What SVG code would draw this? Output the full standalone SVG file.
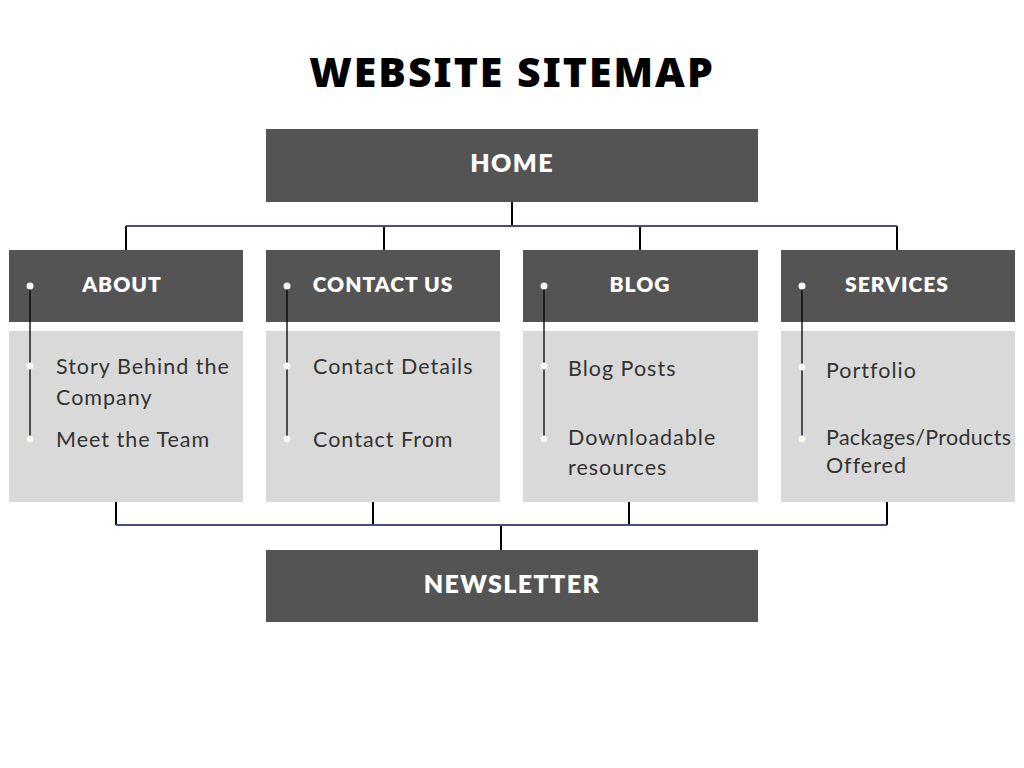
<svg xmlns="http://www.w3.org/2000/svg" width="1024" height="768" viewBox="0 0 1024 768">
<style>
.dark{fill:#545454}
.light{fill:#d9d9d9}
.title{font-family:"Noto Sans",sans-serif;font-weight:900;font-size:41px;fill:#000;text-anchor:middle;letter-spacing:2px}
.hd{font-family:"Lato","Noto Sans",sans-serif;font-weight:800;font-size:21px;fill:#ffffff;text-anchor:middle;letter-spacing:1px}
.big{font-size:25px;letter-spacing:1.4px}
.it{font-family:"Lato","Noto Sans",sans-serif;font-size:21.5px;fill:#333333;letter-spacing:1px}
.conn{stroke:#000;stroke-width:2;fill:none}
.bar{stroke:#4a4e78;stroke-width:2;fill:none}
.bl{stroke:#000;stroke-width:1.3}
.dot{fill:#f7f7f0}
</style>
<text class="title" x="512" y="87">WEBSITE SITEMAP</text>
<g id="connectors">
<path class="conn" d="M512 202V226M126 226V250M384 226V250M640 226V250M897 226V250"/>
<path class="bar" d="M126 226H897"/>
<path class="conn" d="M116 502V525M373 502V525M629 502V525M887 502V525M501 525V550"/>
<path class="bar" d="M116 525H887"/>
</g>
<g id="home"><rect class="dark" x="266" y="129" width="492" height="73"/><text class="hd big" x="512" y="172">HOME</text></g>
<g id="about">
<rect class="dark" x="9" y="250" width="234" height="72"/>
<rect class="light" x="9" y="331" width="234" height="171"/>
<text class="hd" x="122" y="292">ABOUT</text>
<line class="bl" x1="30" y1="286" x2="30" y2="439"/>
<circle class="dot" cx="30" cy="286" r="3.5"/><circle class="dot" cx="30" cy="366" r="3.5"/><circle class="dot" cx="30" cy="439" r="3.5"/>
<text class="it" x="56" y="374">Story Behind the</text>
<text class="it" x="56" y="405">Company</text>
<text class="it" x="56" y="447">Meet the Team</text>
</g>
<g id="contact">
<rect class="dark" x="266" y="250" width="234" height="72"/>
<rect class="light" x="266" y="331" width="234" height="171"/>
<text class="hd" x="383" y="292">CONTACT US</text>
<line class="bl" x1="287" y1="286" x2="287" y2="439"/>
<circle class="dot" cx="287" cy="286" r="3.5"/><circle class="dot" cx="287" cy="366" r="3.5"/><circle class="dot" cx="287" cy="439" r="3.5"/>
<text class="it" x="313" y="374">Contact Details</text>
<text class="it" x="313" y="447">Contact From</text>
</g>
<g id="blog">
<rect class="dark" x="523" y="250" width="235" height="72"/>
<rect class="light" x="523" y="331" width="235" height="171"/>
<text class="hd" x="640" y="292">BLOG</text>
<line class="bl" x1="544" y1="286" x2="544" y2="439"/>
<circle class="dot" cx="544" cy="286" r="3.5"/><circle class="dot" cx="544" cy="366" r="3.5"/><circle class="dot" cx="544" cy="439" r="3.5"/>
<text class="it" x="568" y="376">Blog Posts</text>
<text class="it" x="568" y="445">Downloadable</text>
<text class="it" x="568" y="475">resources</text>
</g>
<g id="services">
<rect class="dark" x="781" y="250" width="234" height="72"/>
<rect class="light" x="781" y="331" width="234" height="171"/>
<text class="hd" x="897" y="292">SERVICES</text>
<line class="bl" x1="802" y1="286" x2="802" y2="439"/>
<circle class="dot" cx="802" cy="286" r="3.5"/><circle class="dot" cx="802" cy="367" r="3.5"/><circle class="dot" cx="802" cy="439" r="3.5"/>
<text class="it" x="826" y="378">Portfolio</text>
<text class="it" x="826" y="445" textLength="186" lengthAdjust="spacing">Packages/Products</text>
<text class="it" x="826" y="473">Offered</text>
</g>
<g id="newsletter"><rect class="dark" x="266" y="550" width="492" height="72"/><text class="hd big" x="512" y="593">NEWSLETTER</text></g>
</svg>
